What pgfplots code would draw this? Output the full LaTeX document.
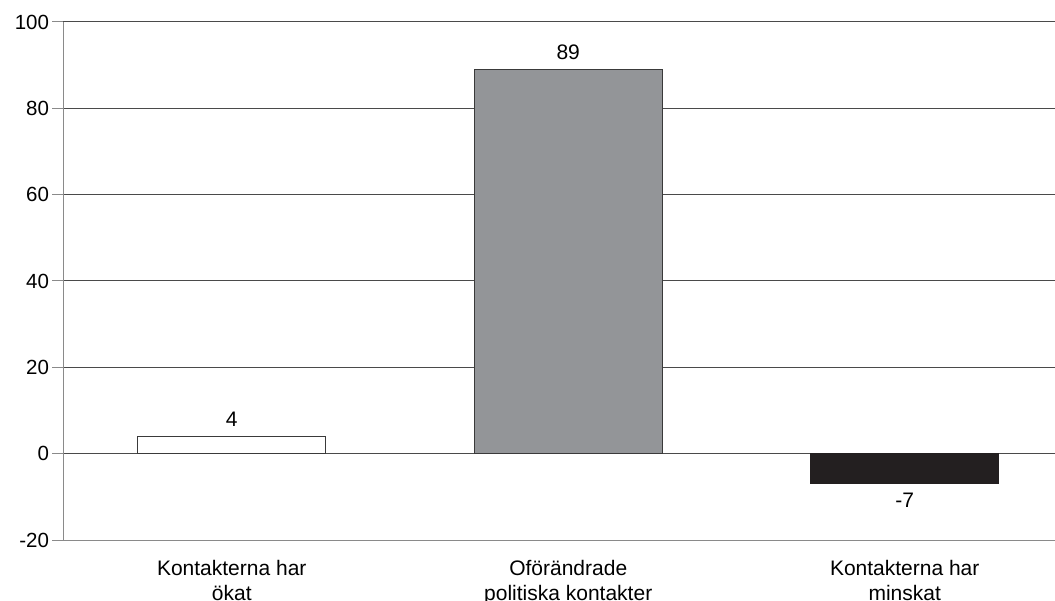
\documentclass[border=0pt]{standalone}
\usepackage{pgfplots}
\pgfplotsset{compat=1.18}
\usepackage{fontspec}
\setmainfont{Liberation Sans}

\definecolor{gridc}{HTML}{4A4A4A}
\definecolor{axisc}{HTML}{8A8A8A}
\definecolor{midbar}{HTML}{939598}
\definecolor{darkbar}{HTML}{231F20}
\definecolor{edge}{HTML}{3A3A3A}

\begin{document}
\begin{tikzpicture}
\begin{axis}[
  at={(0,0)}, anchor=south west,
  scale only axis,
  width=1009.5bp, height=518bp,
  xmin=-0.5, xmax=2.5,
  ymin=-20, ymax=100,
  ytick={-20,0,20,40,60,80,100},
  xtick={0,1,2},
  xticklabels={Kontakterna har\\ökat, Oförändrade\\politiska kontakter, Kontakterna har\\minskat},
  axis x line*=bottom,
  axis y line*=left,
  axis line style={axisc, line width=1bp},
  tick align=outside,
  major tick length=11bp,
  ytick style={axisc, line width=1bp},
  xtick style={draw=none},
  ymajorgrids,
  grid style={gridc, line width=1bp},
  /pgf/number format/assume math mode=true,
  yticklabel style={font=\fontsize{20.5bp}{24bp}\selectfont},
  xticklabel style={align=center, yshift=-6bp, font=\fontsize{21bp}{24.5bp}\selectfont},
  ybar, bar width=188bp, bar shift=0pt,
  nodes near coords,
  nodes near coords style={font=\fontsize{21bp}{24bp}\selectfont, text=black, inner sep=9bp},
  every node near coord/.append style={/pgf/number format/assume math mode=true},
]
  % share of respondents reporting more contacts
  \addplot[fill=white, draw=edge, line width=1bp] coordinates {(0,4)};
  % unchanged political contacts
  \addplot[fill=midbar, draw=edge, line width=1bp] coordinates {(1,89)};
  % fewer contacts
  \addplot[fill=darkbar, draw=darkbar, line width=1bp] coordinates {(2,-7)};
\end{axis}
\pgfresetboundingbox
\path (-63.5bp,-61bp) rectangle (991.5bp,540bp);
\end{tikzpicture}
\end{document}
